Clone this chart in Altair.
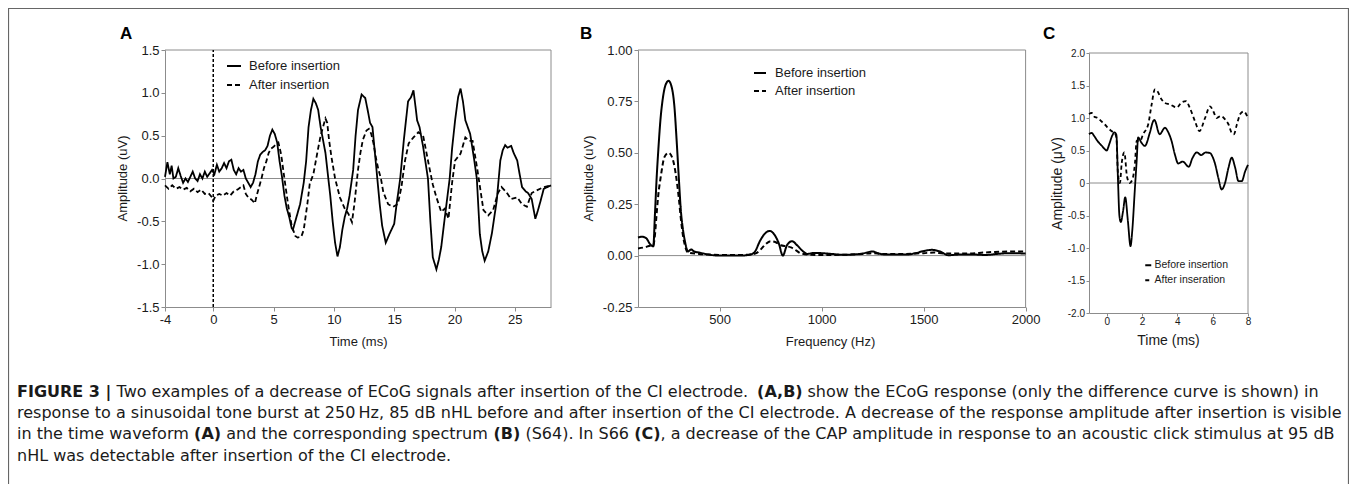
import glob
import struct

import altair as alt
import pandas as pd

FONT = "Liberation Sans"
CAP_FONT = "DejaVu Sans"
W, H = 1341, 476
AX = "#8c8c8c"
TXT = "#1a1a1a"

# ---------------- Panel A : time waveform (ms, uV) ----------------
a_before_t = [-4.0, -3.8, -3.6, -3.45, -3.3, -3.1, -2.9, -2.7, -2.5, -2.3, -2.1, -1.9, -1.7, -1.5, -1.3,
              -1.1, -0.9, -0.7, -0.5, -0.3, -0.1, 0.1, 0.3, 0.5, 0.7, 0.9, 1.1, 1.3, 1.5, 1.7, 1.9, 2.1,
              2.3, 2.5, 2.7, 2.9, 3.1, 3.3, 3.5, 3.7, 3.9, 4.1, 4.3, 4.5, 4.7, 4.9, 5.1, 5.3, 5.5, 5.7,
              5.9, 6.1, 6.3, 6.5, 6.6, 6.8, 7.0, 7.2, 7.5, 7.7, 7.9, 8.1, 8.3, 8.5, 8.7, 8.9, 9.1, 9.3,
              9.5, 9.7, 9.9, 10.1, 10.3, 10.5, 10.7, 10.9, 11.1, 11.3, 11.6, 11.8, 12.0, 12.3, 12.6,
              12.8, 13.0, 13.2, 13.4, 13.6, 13.8, 14.0, 14.3, 14.6, 15.0, 15.2, 15.5, 15.8, 16.15, 16.4,
              16.6, 16.8, 16.9, 17.1, 17.4, 17.8, 18.0, 18.2, 18.5, 18.7, 18.9, 19.2, 19.6, 19.8, 20.05,
              20.3, 20.5, 20.7, 20.9, 21.1, 21.3, 21.6, 21.85, 22.1, 22.3, 22.5, 22.8, 23.1, 23.5, 23.8,
              24.0, 24.2, 24.4, 24.7, 24.9, 25.2, 25.4, 25.6, 25.9, 26.1, 26.4, 26.7, 26.9, 27.1, 27.4,
              27.7, 28.0]
a_before_v = [0.02, 0.19, 0.05, 0.15, 0.0, 0.02, 0.12, 0.03, -0.05, 0.0, -0.04, 0.02, 0.08, 0.0, -0.03,
              0.05, 0.0, 0.08, 0.02, 0.06, 0.1, 0.05, 0.16, 0.08, 0.12, 0.18, 0.12, 0.2, 0.22, 0.1, 0.05,
              0.12, 0.08, 0.1, 0.0, -0.05, -0.1, -0.05, 0.05, 0.2, 0.28, 0.31, 0.33, 0.38, 0.5, 0.57,
              0.52, 0.42, 0.2, 0.02, -0.2, -0.35, -0.45, -0.58, -0.6, -0.5, -0.4, -0.3, -0.05, 0.2, 0.6,
              0.8, 0.93, 0.88, 0.8, 0.6, 0.45, 0.3, 0.05, -0.2, -0.5, -0.75, -0.91, -0.8, -0.6, -0.45,
              -0.35, -0.2, 0.1, 0.5, 0.8, 0.98, 0.94, 0.8, 0.65, 0.6, 0.3, 0.0, -0.3, -0.55, -0.75, -0.65,
              -0.53, -0.3, 0.0, 0.45, 0.9, 0.95, 1.03, 0.8, 0.68, 0.6, 0.37, 0.0, -0.5, -0.92, -1.06,
              -0.95, -0.8, -0.45, 0.0, 0.35, 0.68, 0.95, 1.05, 0.9, 0.68, 0.6, 0.52, 0.25, 0.0, -0.65,
              -0.85, -0.96, -0.85, -0.64, -0.26, 0.21, 0.33, 0.39, 0.36, 0.38, 0.3, 0.21, 0.05, -0.1,
              -0.15, -0.17, -0.24, -0.47, -0.38, -0.28, -0.12, -0.1, -0.08]
a_after_t = [-4.0, -3.7, -3.4, -3.1, -2.8, -2.5, -2.2, -1.9, -1.6, -1.3, -1.0, -0.7, -0.4, -0.1, 0.0, 0.2,
             0.5, 0.8, 1.1, 1.4, 1.7, 2.0, 2.3, 2.5, 2.7, 2.9, 3.2, 3.45, 3.6, 3.8, 4.0, 4.2, 4.4, 4.6,
             4.8, 5.0, 5.2, 5.4, 5.6, 5.7, 5.9, 6.2, 6.5, 6.8, 7.0, 7.3, 7.5, 7.8, 8.0, 8.3, 8.6, 8.9,
             9.1, 9.3, 9.45, 9.6, 9.8, 10.1, 10.5, 10.9, 11.2, 11.5, 11.7, 12.0, 12.2, 12.4, 12.7, 12.9,
             13.1, 13.3, 13.5, 13.7, 13.9, 14.1, 14.5, 14.9, 15.3, 15.6, 15.9, 16.2, 16.6, 17.0, 17.4,
             17.8, 18.2, 18.5, 18.9, 19.2, 19.5, 19.8, 20.05, 20.5, 20.9, 21.2, 21.5, 21.9, 22.4, 22.8,
             23.2, 23.6, 23.9, 24.3, 24.7, 25.2, 25.6, 26.0, 26.4, 26.8, 27.4, 28.0]
a_after_v = [-0.08, -0.12, -0.08, -0.12, -0.1, -0.13, -0.11, -0.15, -0.12, -0.16, -0.13, -0.18, -0.17,
             -0.22, -0.26, -0.2, -0.18, -0.2, -0.17, -0.2, -0.15, -0.13, -0.1, -0.08, -0.18, -0.22,
             -0.25, -0.29, -0.2, -0.1, 0.0, 0.12, 0.2, 0.3, 0.35, 0.37, 0.4, 0.42, 0.3, 0.21, 0.0, -0.3,
             -0.55, -0.67, -0.69, -0.68, -0.6, -0.3, -0.06, 0.05, 0.28, 0.5, 0.6, 0.7, 0.65, 0.45, 0.25,
             0.0, -0.22, -0.35, -0.41, -0.51, -0.3, 0.1, 0.3, 0.45, 0.56, 0.58, 0.52, 0.4, 0.23, 0.1,
             0.0, -0.16, -0.3, -0.33, -0.3, -0.1, 0.21, 0.41, 0.48, 0.54, 0.5, 0.21, -0.07, -0.22,
             -0.39, -0.35, -0.47, -0.05, 0.21, 0.29, 0.48, 0.44, 0.44, 0.1, -0.37, -0.43, -0.37, -0.17,
             -0.1, -0.16, -0.24, -0.22, -0.3, -0.33, -0.17, -0.14, -0.1, -0.08]

# ---------------- Panel B : spectrum (Hz, uV) ----------------
b_before_f = [100, 120, 140, 160, 175, 183, 191, 200, 210, 221, 235, 250, 265, 278, 290, 300, 310, 320,
              330, 345, 360, 375, 400, 430, 460, 500, 550, 600, 650, 670, 700, 720, 745, 770, 790, 810,
              830, 855, 880, 910, 930, 960, 1000, 1050, 1100, 1150, 1200, 1250, 1280, 1320, 1380, 1420,
              1460, 1500, 1540, 1580, 1620, 1680, 1750, 1800, 1860, 1920, 2000]
b_before_v = [0.088, 0.092, 0.085, 0.055, 0.045, 0.2, 0.37, 0.52, 0.66, 0.76, 0.83, 0.85, 0.82, 0.73,
              0.55, 0.38, 0.22, 0.13, 0.07, 0.02, 0.03, 0.02, 0.015, 0.008, 0.003, 0.0, 0.0, 0.0, 0.005,
              0.015, 0.075, 0.105, 0.12, 0.1, 0.06, 0.0, 0.05, 0.07, 0.05, 0.02, 0.008, 0.013, 0.012,
              0.008, 0.004, 0.005, 0.01, 0.02, 0.01, 0.005, 0.005, 0.005, 0.012, 0.022, 0.028, 0.02,
              0.002, 0.005, 0.005, 0.003, 0.008, 0.012, 0.01]
b_after_f = [100, 130, 160, 175, 183, 191, 200, 211, 230, 250, 270, 289, 300, 310, 320, 330, 345, 400,
             450, 500, 600, 650, 680, 700, 725, 750, 775, 800, 830, 850, 875, 900, 950, 1000, 1100, 1200,
             1250, 1300, 1400, 1500, 1550, 1600, 1700, 1800, 1850, 1950, 2000]
b_after_v = [0.035, 0.04, 0.048, 0.05, 0.1, 0.2, 0.3, 0.38, 0.48, 0.5, 0.47, 0.37, 0.28, 0.18, 0.1,
             0.05, 0.015, 0.008, 0.005, 0.003, 0.003, 0.005, 0.012, 0.028, 0.055, 0.07, 0.065, 0.05,
             0.045, 0.04, 0.025, 0.01, 0.004, 0.003, 0.004, 0.008, 0.012, 0.008, 0.008, 0.012, 0.015,
             0.01, 0.01, 0.015, 0.018, 0.02, 0.02]

# ---------------- Panel C : CAP (ms, uV) ----------------
c_before_t = [-1.0, -0.85, -0.7, -0.5, -0.3, -0.1, 0.0, 0.15, 0.3, 0.45, 0.55, 0.64, 0.72, 0.8, 0.93,
              1.05, 1.2, 1.35, 1.45, 1.59, 1.7, 1.78, 1.97, 2.16, 2.44, 2.63, 2.7, 3.0, 3.3, 3.45, 3.67,
              3.86, 4.05, 4.3, 4.65, 4.85, 5.1, 5.35, 5.6, 5.85, 6.0, 6.14, 6.32, 6.51, 6.7, 6.9, 7.08,
              7.27, 7.46, 7.65, 7.84, 8.0]
c_before_v = [0.75, 0.77, 0.72, 0.64, 0.58, 0.52, 0.5, 0.6, 0.72, 0.78, 0.74, 0.05, -0.5, -0.6, -0.43,
              -0.22, -0.58, -0.97, -0.73, -0.12, 0.35, 0.7, 0.62, 0.57, 0.77, 0.95, 0.97, 0.75, 0.85,
              0.8, 0.65, 0.44, 0.3, 0.33, 0.25, 0.38, 0.47, 0.43, 0.47, 0.46, 0.4, 0.29, 0.08, -0.1,
              0.0, 0.24, 0.39, 0.24, 0.03, 0.03, 0.18, 0.28]
c_after_t = [-1.0, -0.85, -0.7, -0.5, -0.3, -0.1, 0.1, 0.27, 0.47, 0.55, 0.64, 0.75, 0.85, 1.0, 1.15,
             1.3, 1.45, 1.6, 1.7, 1.9, 2.06, 2.35, 2.54, 2.73, 2.85, 3.1, 3.3, 3.58, 3.96, 4.24, 4.5,
             4.7, 5.0, 5.25, 5.57, 5.85, 6.04, 6.23, 6.45, 6.7, 6.9, 7.08, 7.2, 7.37, 7.56, 7.75, 8.0]
c_after_v = [1.06, 1.08, 1.02, 1.0, 0.95, 0.9, 0.84, 0.8, 0.76, 0.7, 0.14, 0.0, 0.3, 0.47, 0.1, 0.0,
             0.05, 0.3, 0.65, 0.65, 0.75, 0.9, 1.2, 1.44, 1.42, 1.29, 1.23, 1.21, 1.16, 1.24, 1.26, 1.16,
             0.95, 0.8, 1.0, 1.18, 1.1, 1.0, 1.03, 0.98, 0.9, 0.77, 0.75, 0.9, 1.06, 1.1, 1.0]

names_ab = ["Before insertion", "After insertion"]
names_c = ["Before insertion", "After inseration"]

# ---------------- caption ----------------
cap_l1 = ["FIGURE 3 |", "Two examples of a decrease of ECoG signals after insertion of the CI electrode.",
          "(A,B)", "show the ECoG response (only the difference curve is shown) in"]
cap_l2 = ["response to a sinusoidal tone burst at 250\u2009Hz, 85 dB nHL before and after insertion of the CI "
          "electrode. A decrease of the response amplitude after insertion is visible"]
cap_l3 = ["in the time waveform", "(A)", "and the corresponding spectrum", "(B)", "(S64). In S66", "(C)",
          ", a decrease of the CAP amplitude in response to an acoustic click stimulus at 95 dB"]
cap_l4 = ["nHL was detectable after insertion of the CI electrode."]
cap_bold = [[True, False, True, False], [False], [False, True, False, True, False, True, False], [False]]


# ---------- text measuring from the installed font file (for caption layout) ----------
def _font_measurer(names):
    path = None
    for n in names:
        for pat in ("/usr/share/fonts/**/" + n, "/usr/local/share/fonts/**/" + n, "/usr/share/fonts/" + n):
            hits = glob.glob(pat, recursive=True)
            if hits:
                path = hits[0]
                break
        if path:
            break
    if path is None:
        return None
    try:
        data = open(path, "rb").read()
        u16 = lambda o: struct.unpack(">H", data[o:o + 2])[0]
        num = u16(4)
        tables = {}
        for i in range(num):
            rec = data[12 + 16 * i: 28 + 16 * i]
            tables[rec[:4].decode("latin-1")] = struct.unpack(">I", rec[8:12])[0]
        upem = u16(tables["head"] + 18)
        nhm = u16(tables["hhea"] + 34)
        hm = tables["hmtx"]
        adv = [u16(hm + 4 * i) for i in range(nhm)]
        cm = tables["cmap"]
        sub = None
        for i in range(u16(cm + 2)):
            pid, eid = u16(cm + 4 + 8 * i), u16(cm + 6 + 8 * i)
            off = struct.unpack(">I", data[cm + 8 + 8 * i: cm + 12 + 8 * i])[0]
            if pid == 3 and eid == 1 and u16(cm + off) == 4:
                sub = cm + off
        segx2 = u16(sub + 6)
        ends, starts = sub + 14, sub + 16 + segx2
        deltas, ros = starts + segx2, starts + 2 * segx2

        def gid(c):
            for i in range(segx2 // 2):
                if u16(ends + 2 * i) >= c:
                    st = u16(starts + 2 * i)
                    if st > c:
                        return 0
                    d, ro = u16(deltas + 2 * i), u16(ros + 2 * i)
                    if ro == 0:
                        return (c + d) & 0xFFFF
                    g = u16(ros + 2 * i + ro + 2 * (c - st))
                    return (g + d) & 0xFFFF if g else 0
            return 0

        def width(s, size):
            return sum(adv[min(gid(ord(ch)), nhm - 1)] for ch in s) / upem * size
        return width
    except Exception:
        return None


_reg = _font_measurer(["DejaVuSans.ttf"])
_bold = _font_measurer(["DejaVuSans-Bold.ttf"])


def text_width(s, size, bold):
    f = _bold if bold else _reg
    if f is None:
        return len(s) * size * (0.62 if bold else 0.56)
    return f(s, size)


def series_df(t1, v1, t2, v2, names):
    return pd.DataFrame({"t": t1 + t2, "v": v1 + v2,
                         "s": [names[0]] * len(t1) + [names[1]] * len(t2)})


one = pd.DataFrame({"k": [0]})


def panel(df, xdom, xrng, ydom, yrng, xticks, yticks, xlab_expr, ylab_expr, xtitle, ytitle,
          names, dashes, lsize, tsize, tpad, xpad, ttl_size, ytx, yty, xtx, xty, legend, interp,
          width=1.9, vline=False):
    def xs():
        return alt.Scale(domain=xdom, range=xrng, nice=False, zero=False)

    def ys():
        return alt.Scale(domain=ydom, range=yrng, nice=False, zero=False)

    common = dict(domainColor=AX, tickColor=AX, tickSize=tsize, labelFont=FONT,
                  labelFontSize=lsize, labelColor=TXT, titleFont=FONT, titleFontSize=ttl_size,
                  titleFontWeight="normal", titleColor=TXT, titleAlign="center", titleBaseline="middle",
                  grid=False, labelOverlap=False, labelFlush=False)
    xaxis = alt.Axis(orient="bottom", offset=yrng[0] - H, values=xticks, labelExpr=xlab_expr, title=xtitle,
                     titleX=xtx, titleY=xty, labelPadding=xpad, **common)
    yaxis = alt.Axis(orient="left", offset=-xrng[0], values=yticks, labelExpr=ylab_expr, title=ytitle,
                     titleX=ytx, titleY=yty, titleAngle=270, labelPadding=tpad, **common)
    b = alt.Chart(one)
    zero = b.mark_rule(color=AX, strokeWidth=1).encode(
        x=alt.X(datum=xdom[0], scale=xs(), axis=None), x2=alt.X2(datum=xdom[1]),
        y=alt.Y(datum=0, scale=ys(), axis=None))
    top = b.mark_rule(color=AX, strokeWidth=1).encode(
        x=alt.X(datum=xdom[0], scale=xs(), axis=None), x2=alt.X2(datum=xdom[1]),
        y=alt.Y(datum=ydom[1], scale=ys(), axis=None))
    right = b.mark_rule(color=AX, strokeWidth=1).encode(
        x=alt.X(datum=xdom[1], scale=xs(), axis=None),
        y=alt.Y(datum=ydom[0], scale=ys(), axis=None), y2=alt.Y2(datum=ydom[1]))
    layers = [zero, top, right]
    if vline:
        layers.append(b.mark_rule(color="black", strokeWidth=1.5, strokeDash=[3, 2]).encode(
            x=alt.X(datum=0, scale=xs(), axis=None),
            y=alt.Y(datum=ydom[0], scale=ys(), axis=None), y2=alt.Y2(datum=ydom[1])))
    lines = alt.Chart(df).mark_line(color="black", strokeWidth=width, interpolate=interp).encode(
        x=alt.X("t:Q", scale=xs(), axis=xaxis),
        y=alt.Y("v:Q", scale=ys(), axis=yaxis),
        strokeDash=alt.StrokeDash("s:N", scale=alt.Scale(domain=names, range=dashes), legend=legend),
    )
    layers.append(lines)
    return layers


def leg(x, y, size, fs, offset, rowpad):
    return alt.Legend(orient="none", legendX=x, legendY=y, title=None, labelFont=FONT, labelFontSize=fs,
                      labelColor=TXT, symbolType="stroke", symbolStrokeWidth=2, symbolSize=size,
                      symbolStrokeColor="black", labelOffset=offset, rowPadding=rowpad, padding=0)


def fmt(spec):
    return "replace(format(datum.value, '%s'), '\u2212', '-')" % spec


c_lab = "datum.value == 0 ? '0' : " + fmt(".1f")

pA = panel(series_df(a_before_t, a_before_v, a_after_t, a_after_v, names_ab),
           [-4, 28], [157, 543], [-1.5, 1.5], [299, 42],
           [-4, 0, 5, 10, 15, 20, 25], [-1.5, -1.0, -0.5, 0.0, 0.5, 1.0, 1.5], fmt("d"), fmt(".1f"),
           "Time (ms)", "Amplitude (uV)", names_ab, [[1, 0], [5, 3]], 13, 4, 2, 2, 13,
           -43, 170, 350, 34, leg(218, 50, 196, 13, 7, 4), "linear", width=1.8, vline=True)

pB = panel(series_df(b_before_f, b_before_v, b_after_f, b_after_v, names_ab),
           [100, 2000], [630, 1017.6], [-0.25, 1.0], [299, 42],
           [500, 1000, 1500, 2000], [-0.25, 0.0, 0.25, 0.5, 0.75, 1.0], fmt("d"), fmt(".2f"),
           "Frequency (Hz)", "Amplitude (uV)", names_ab, [[1, 0], [5, 3]], 13, 4, 2, 2, 13,
           -50, 170, 822, 34, leg(745, 58, 144, 13, 8, 4), "monotone", width=2.0)

pC = panel(series_df(c_before_t, c_before_v, c_after_t, c_after_v, names_c),
           [-1, 8], [1081, 1240], [-2, 2], [305, 45],
           [0, 2, 4, 6, 8], [-2.0, -1.5, -1.0, -0.5, 0.0, 0.5, 1.0, 1.5, 2.0], fmt("d"), c_lab,
           "Time (ms)", "Amplitude (\u03bcV)", names_c, [[1, 0], [4, 3]], 10, 3, 1.5, 0, 14,
           -32, 175, 1160, 27, leg(1135, 252, 36, 10.5, 1, 4), "monotone", width=1.8)


def txt(s, x, y, size, bold=False, font=CAP_FONT, color=TXT):
    return alt.Chart(one).mark_text(text=s, font=font, fontSize=size, fontWeight="bold" if bold else "normal",
                                    align="left", baseline="middle", color=color).encode(
        x=alt.value(x), y=alt.value(y))


letters = [txt("A", 112, 26, 17, True, FONT, "black"),
           txt("B", 572, 26, 17, True, FONT, "black"),
           txt("C", 1035, 26, 17, True, FONT, "black")]

CAP_SIZE = 16
cap_left = 9
cap_y = [384, 405, 426, 448]
space = text_width(" ", CAP_SIZE, False)
caption = []
for li, line in enumerate([cap_l1, cap_l2, cap_l3, cap_l4]):
    x = cap_left
    for si, seg in enumerate(line):
        if si > 0 and not seg.startswith(","):
            x += space
        bold = cap_bold[li][si]
        caption.append(txt(seg, round(x, 1), cap_y[li], CAP_SIZE, bold))
        x += text_width(seg, CAP_SIZE, bold)

frame = [
    alt.Chart(one).mark_rule(color="#666666", strokeWidth=1.2).encode(
        x=alt.value(0), x2=alt.value(W), y=alt.value(0.5)),
    alt.Chart(one).mark_rule(color="#666666", strokeWidth=1.2).encode(
        x=alt.value(0.5), y=alt.value(0), y2=alt.value(H)),
    alt.Chart(one).mark_rule(color="#666666", strokeWidth=1.2).encode(
        x=alt.value(W - 0.5), y=alt.value(0), y2=alt.value(H)),
]

chart = alt.layer(*pA, *pB, *pC, *letters, *caption, *frame).resolve_scale(
    x="independent", y="independent", strokeDash="independent"
).resolve_axis(x="independent", y="independent").resolve_legend(strokeDash="independent").properties(
    width=W, height=H, padding=0, autosize=alt.AutoSizeParams(type="none")
).configure_view(stroke=None).configure(background="white")

chart.save("out.html", embed_options={"renderer": "svg", "actions": False})
